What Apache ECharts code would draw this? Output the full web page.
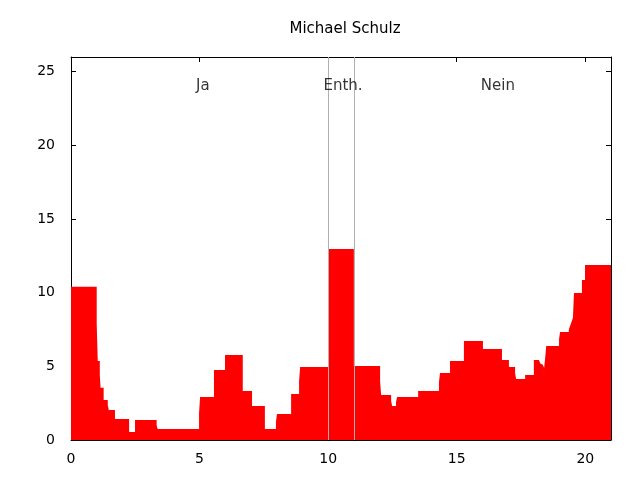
<!DOCTYPE html>
<html><head><meta charset="utf-8">
<script src="https://cdn.jsdelivr.net/npm/echarts@6/dist/echarts.min.js"></script>
<style>html,body{margin:0;padding:0;background:#fff}#c{width:640px;height:480px}</style>
</head><body><div id="c"></div>
<script>
const title = "Michael Schulz";
const stepX = [0,1.0,1.04,1.12,1.15,1.27,1.43,1.47,1.71,2.26,2.49,3.33,3.37,4.98,5.02,5.56,5.99,6.68,7.04,7.54,7.97,8.01,8.56,8.87,8.91,10.0,11.0,12.02,12.06,12.45,12.49,12.64,12.68,13.5,14.31,14.35,14.74,15.28,16.02,16.76,17.03,17.27,17.31,17.66,18.0,18.2,18.25,18.3,18.35,18.4,18.44,18.48,18.98,19.02,19.36,19.4,19.44,19.48,19.52,19.56,19.87,19.99,21];
const stepY = [10.4,7.9,5.36,4.41,3.55,2.72,2.38,2.04,1.43,0.54,1.36,1.0,0.75,1.83,2.92,4.75,5.77,3.33,2.31,0.75,1.22,1.77,3.12,4.0,4.96,12.97,5.02,4.0,3.05,2.65,2.31,2.58,2.92,3.33,3.94,4.55,5.36,6.72,6.18,5.43,4.96,4.55,4.14,4.41,5.43,5.3,5.2,5.1,5.0,4.89,5.57,6.38,6.86,7.33,7.5,7.7,7.9,8.1,8.3,9.98,10.86,11.88,11.88];
const sectionLabels = ["Ja","Enth.","Nein"];
const sectionX = [5.13,10.58,16.6];
const sectionY = [24,24,24];
const dividers = [10,11];

const font = "DejaVu Sans";
const chart = echarts.init(document.getElementById('c'));
const axisCommon = {
  axisLine:{show:true,onZero:false,lineStyle:{color:'#000',width:1}},
  axisTick:{show:true,inside:true,length:5,lineStyle:{color:'#000'}},
  splitLine:{show:false}
};
chart.setOption({
  animation:false,
  title:{text:title,left:340,top:17,textAlign:'center',textStyle:{fontFamily:font,fontSize:15,fontWeight:'normal',color:'#000'}},
  grid:{left:71,right:29,top:57,bottom:40},
  xAxis:[
    Object.assign({type:'value',min:0,max:21,interval:5,position:'bottom',
      axisLabel:{fontFamily:font,fontSize:14,color:'#000',margin:12,showMaxLabel:false}},axisCommon),
    Object.assign({type:'value',min:0,max:21,interval:5,position:'top',axisLabel:{show:false}},axisCommon)
  ],
  yAxis:[
    Object.assign({type:'value',min:0,max:26,interval:5,position:'left',
      axisLabel:{fontFamily:font,fontSize:14,color:'#000',margin:16,
        formatter:v=>(v%5===0?String(v):'')}},axisCommon),
    Object.assign({type:'value',min:0,max:26,interval:5,position:'right',axisLabel:{show:false}},axisCommon)
  ],
  series:[
    {type:'line',step:'end',symbol:'none',
     data:stepX.map((x,i)=>[x,stepY[i]]),
     lineStyle:{width:0,color:'#ff0000'},
     itemStyle:{color:'#ff0000'},
     areaStyle:{color:'#ff0000',opacity:1},
     markLine:{silent:true,symbol:'none',label:{show:false},
       lineStyle:{color:'#b0b0b0',width:1,type:'solid'},
       data:dividers.map(d=>({xAxis:d}))},
     z:2},
    {type:'scatter',symbolSize:0,
     data:sectionX.map((x,i)=>({value:[x,sectionY[i]],name:sectionLabels[i]})),
     label:{show:true,position:'inside',formatter:p=>p.name,fontFamily:font,fontSize:15,color:'#000'},
     z:5}
  ]
});
</script></body></html>
